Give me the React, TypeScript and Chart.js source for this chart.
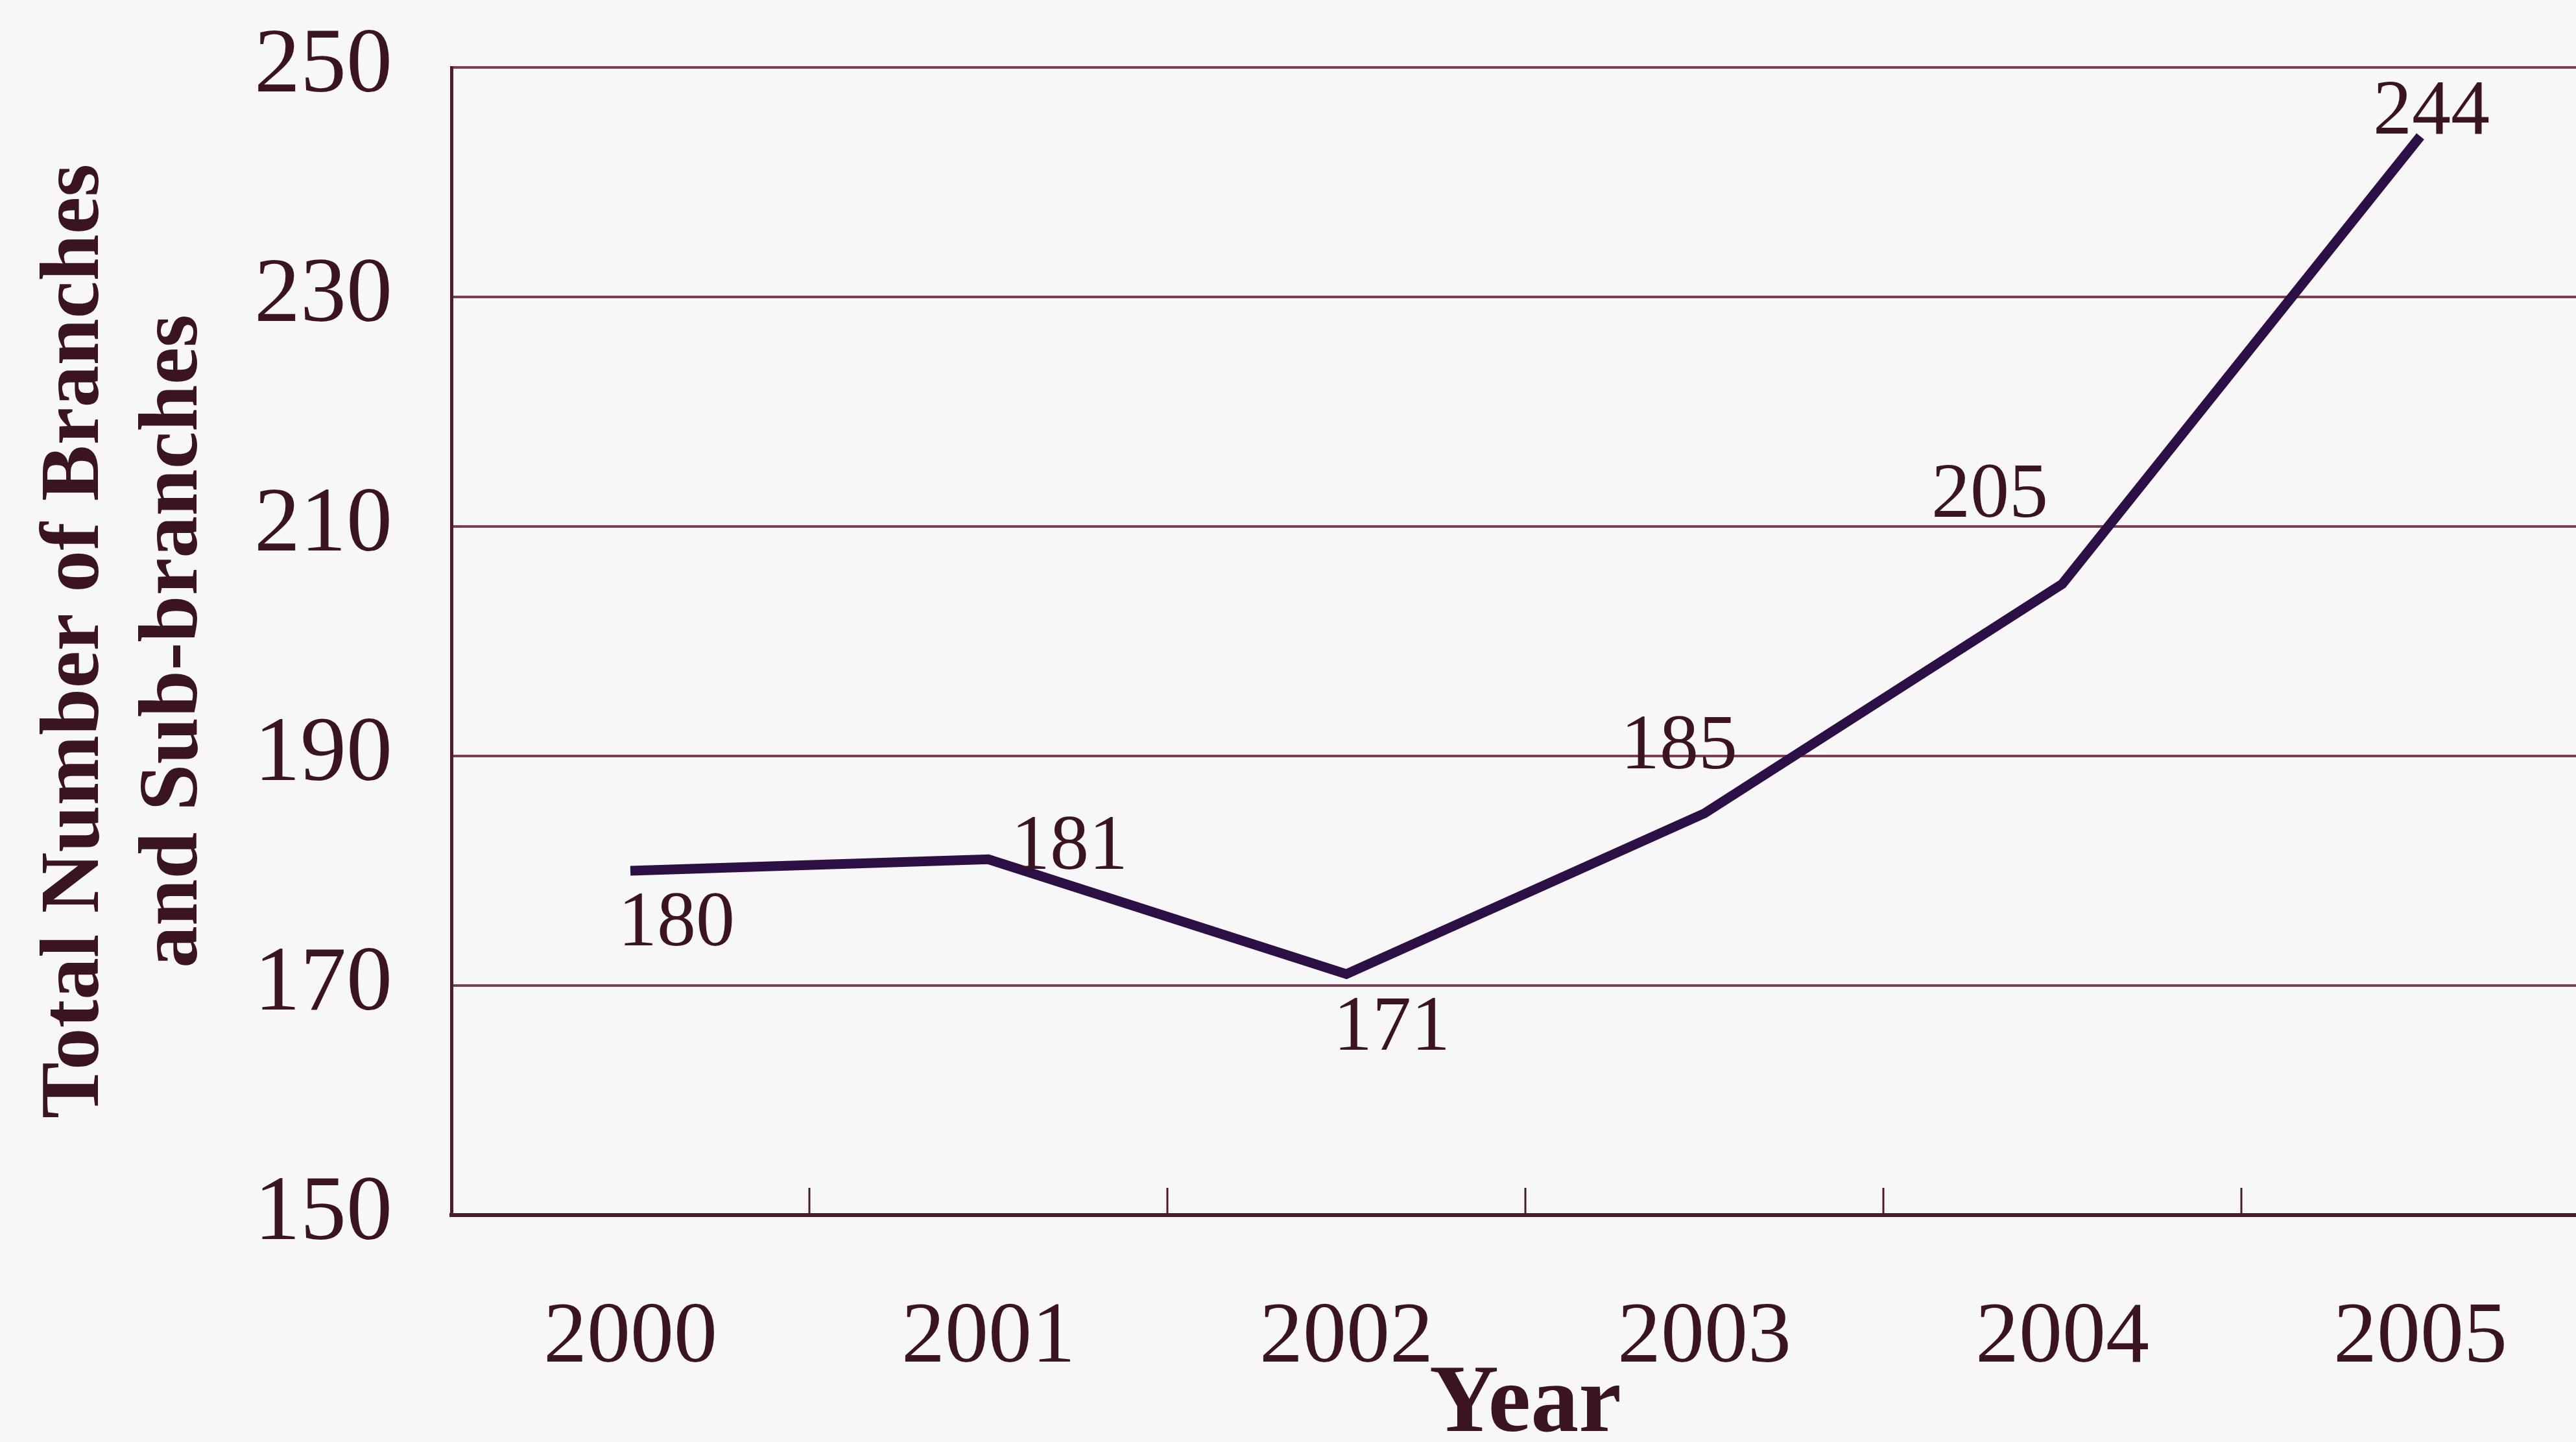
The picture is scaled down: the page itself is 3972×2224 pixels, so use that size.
import React, { useEffect, useRef } from "react";
import { Chart, registerables } from "chart.js";

Chart.register(...registerables);

// Series data
const years: string[] = ["2000", "2001", "2002", "2003", "2004", "2005"];
const branchCounts: number[] = [180, 181, 171, 185, 205, 244];

// Axis ticks and titles
const yTickValues: number[] = [150, 170, 190, 210, 230, 250];
const yTitleLines: string[] = ["Total Number of Branches", "and Sub-branches"];
const xTitleText = "Year";

const CANVAS_W = 4020;
const CANVAS_H = 2260;
const SERIF = "'Liberation Serif', 'Times New Roman', serif";
const TEXT_COLOR = "#3b1424";
const GRID_COLOR = "#7d3f4f";
const AXIS_COLOR = "#4a1c2c";
const LINE_COLOR = "#2b0f45";

// Short tick marks drawn upward from the x axis at the category boundaries
const innerTicksPlugin = {
  id: "innerTicks",
  afterDraw(chart: any, _args: any, opts: any) {
    const x = chart.scales.x;
    const area = chart.chartArea;
    const ctx = chart.ctx;
    const n = chart.data.labels.length;
    ctx.save();
    ctx.strokeStyle = opts.color;
    ctx.lineWidth = opts.width;
    for (let i = 1; i < n; i++) {
      const px = (x.getPixelForValue(i - 1) + x.getPixelForValue(i)) / 2;
      ctx.beginPath();
      ctx.moveTo(px, area.bottom);
      ctx.lineTo(px, area.bottom - opts.length);
      ctx.stroke();
    }
    ctx.restore();
  },
};

// Value labels placed next to each point of the line
const valueLabelsPlugin = {
  id: "valueLabels",
  afterDatasetsDraw(chart: any, _args: any, opts: any) {
    const meta = chart.getDatasetMeta(0);
    const values = chart.data.datasets[0].data;
    const ctx = chart.ctx;
    ctx.save();
    ctx.font = opts.font;
    ctx.fillStyle = opts.color;
    ctx.textAlign = "center";
    ctx.textBaseline = "alphabetic";
    meta.data.forEach((pt: any, i: number) => {
      const [dx, dy] = opts.offsets[i] || [0, -20];
      ctx.fillText(String(values[i]), pt.x + dx, pt.y + dy);
    });
    ctx.restore();
  },
};

export default function App() {
  const canvasRef = useRef<HTMLCanvasElement | null>(null);

  useEffect(() => {
    if (!canvasRef.current) return;
    const chart = new Chart(canvasRef.current, {
      type: "line",
      data: {
        labels: years,
        datasets: [
          {
            data: branchCounts,
            borderColor: LINE_COLOR,
            borderWidth: 15,
            pointRadius: 0,
            tension: 0,
            fill: false,
          },
        ],
      },
      plugins: [innerTicksPlugin, valueLabelsPlugin],
      options: {
        animation: false,
        responsive: false,
        devicePixelRatio: 1,
        layout: { padding: { top: 104, left: 0, right: 12, bottom: 0 } },
        plugins: {
          legend: { display: false },
          tooltip: { enabled: false },
          innerTicks: { color: AXIS_COLOR, width: 3, length: 42 },
          valueLabels: {
            font: `120px ${SERIF}`,
            color: TEXT_COLOR,
            offsets: [
              [71, 115],
              [125, 15],
              [70, 117],
              [-39, -70],
              [-112, -104],
              [17, -4],
            ],
          },
        } as any,
        scales: {
          x: {
            type: "category",
            offset: true,
            grid: { display: false, drawTicks: false, offset: true },
            border: { display: true, color: AXIS_COLOR, width: 6 },
            ticks: {
              color: TEXT_COLOR,
              font: { family: SERIF, size: 134 },
              padding: 110,
              maxRotation: 0,
              autoSkip: false,
            },
            title: {
              display: true,
              text: xTitleText,
              color: TEXT_COLOR,
              font: { family: SERIF, size: 148, weight: "bold" },
              padding: { top: 0, bottom: 2 },
            },
            afterFit(scale: any) {
              scale.height = CANVAS_H - 1874;
            },
          },
          y: {
            min: 150,
            max: 250,
            afterBuildTicks(scale: any) {
              scale.ticks = yTickValues.map((v) => ({ value: v }));
            },
            grid: { color: GRID_COLOR, lineWidth: 4, drawTicks: false },
            border: { display: true, color: AXIS_COLOR, width: 5 },
            ticks: {
              color: TEXT_COLOR,
              font: { family: SERIF, size: 142 },
              padding: 91,
            },
            title: {
              display: true,
              text: yTitleLines,
              color: TEXT_COLOR,
              font: { family: SERIF, size: 130, weight: "bold", lineHeight: 1.17 },
              padding: { top: 41, bottom: 0 },
            },
            afterFit(scale: any) {
              scale.width = 696;
              // keep the tick-label gap from pushing the plot area down
              scale.paddingTop = 0;
              scale.paddingBottom = 0;
            },
          },
        },
      } as any,
    });
    return () => chart.destroy();
  }, []);

  return (
    <div
      style={{
        position: "fixed",
        left: 0,
        top: 0,
        width: "100vw",
        height: "100vh",
        overflow: "hidden",
        background: "#f8f7f7",
      }}
    >
      <canvas
        ref={canvasRef}
        width={CANVAS_W}
        height={CANVAS_H}
        style={{ width: CANVAS_W, height: CANVAS_H, display: "block" }}
      />
    </div>
  );
}
